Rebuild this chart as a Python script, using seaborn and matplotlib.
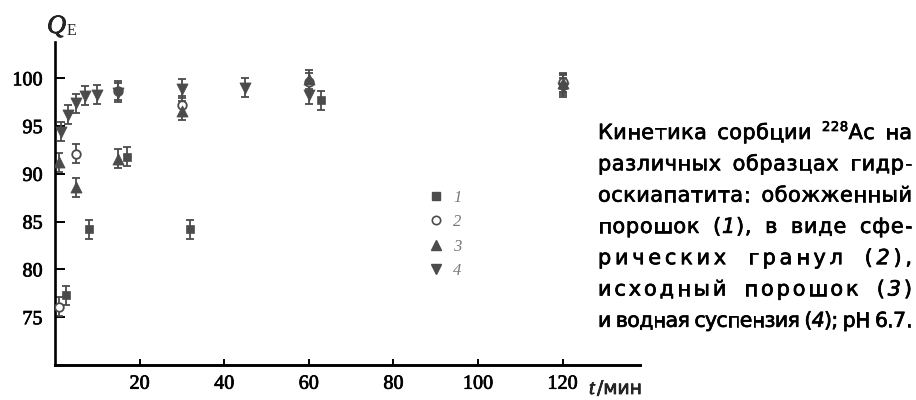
import matplotlib
matplotlib.use("Agg")
import matplotlib.pyplot as plt
import matplotlib.patheffects as pe
import pandas as pd
import seaborn as sns
from matplotlib.font_manager import FontProperties
from matplotlib.lines import Line2D

# Sorption kinetics: t in minutes, Q_E in %
t1 = [2.5, 8, 17, 32, 63, 120]
q1 = [77.3, 84.2, 91.8, 84.2, 97.7, 99.3]
t2 = [1, 5, 15, 30, 60, 120]
q2 = [76.1, 92.1, 98.7, 97.2, 99.6, 99.6]
t3 = [1, 5, 15, 30, 60, 120]
q3 = [91.2, 88.6, 91.6, 96.6, 99.9, 99.5]
t4 = [1.5, 3, 5, 7, 10, 15, 30, 45, 60, 120]
q4 = [94.4, 96.2, 97.4, 98.2, 98.3, 98.5, 98.9, 99.0, 98.3, 99.0]
q_err = 1.0

series_labels = ["1", "2", "3", "4"]
x_ticks = [20, 40, 60, 80, 100, 120]
y_ticks = [75, 80, 85, 90, 95, 100]

sns.set_theme(style="ticks")
plt.rcParams["font.family"] = ["Liberation Serif", "DejaVu Serif"]

W, H = 916, 400
fig = plt.figure(figsize=(W / 100, H / 100), dpi=100)
ax = fig.add_axes([55 / W, 1 - 365 / H, 585 / W, 323 / H])
GRAY = "#4b4b4b"
THICKEN = [pe.withStroke(linewidth=0.5, foreground="black")]

rows = []
for lab, ts, qs in zip(series_labels, [t1, t2, t3, t4], [q1, q2, q3, q4]):
    rows += [{"series": lab, "t": a, "Q": b} for a, b in zip(ts, qs)]
df = pd.DataFrame(rows)

ax.errorbar(df["t"], df["Q"], yerr=q_err, fmt="none", ecolor=GRAY,
            elinewidth=1.3, capsize=3, capthick=1.3, zorder=2)

marker_style = {
    "1": dict(marker="s", s=36, color=GRAY, edgecolor=GRAY),
    "2": dict(marker="o", s=38, facecolor="white", edgecolor=GRAY, linewidth=1.3),
    "3": dict(marker="^", s=62, color=GRAY, edgecolor=GRAY),
    "4": dict(marker="v", s=62, color=GRAY, edgecolor=GRAY),
}
for lab in series_labels:
    sub = df[df["series"] == lab]
    sns.scatterplot(data=sub, x="t", y="Q", ax=ax, legend=False, zorder=3,
                    **marker_style[lab])

ax.set_xlim(0, 138.3)
ax.set_ylim(70, 103.8)
for s in ["top", "right"]:
    ax.spines[s].set_visible(False)
ax.spines["left"].set_linewidth(1.9)
ax.spines["bottom"].set_linewidth(2.1)
ax.spines["left"].set_color("black")
ax.spines["bottom"].set_color("black")
ax.set_xticks(x_ticks)
ax.set_yticks(y_ticks)
ax.tick_params(axis="y", direction="in", length=7, width=1.4, pad=9,
               labelsize=14.5, colors="black")
ax.tick_params(axis="x", direction="in", length=4.5, width=1.4, pad=7,
               labelsize=14.5, colors="black")
for lbl in ax.get_xticklabels() + ax.get_yticklabels():
    lbl.set_path_effects(THICKEN)
ax.set_xlabel("")
ax.set_ylabel("")

# axis titles
fig.text(47 / W, 1 - 33 / H, "Q", family="Liberation Serif", style="italic",
         fontsize=19, va="baseline", ha="left", path_effects=THICKEN)
fig.text(67 / W, 1 - 35 / H, "E", family="Liberation Serif", fontsize=11.5,
         va="baseline", ha="left")
fig.text(589 / W, 1 - 394 / H, "t", family="Liberation Serif", style="italic",
         fontsize=15, va="baseline", ha="left", path_effects=THICKEN)
fig.text(597 / W, 1 - 394 / H, "/мин", family="DejaVu Sans", fontsize=13.5,
         va="baseline", ha="left", path_effects=THICKEN)

# legend
handles = [
    Line2D([], [], ls="", marker="s", ms=5.5, color=GRAY),
    Line2D([], [], ls="", marker="o", ms=6, mfc="white", mec=GRAY, mew=1.2),
    Line2D([], [], ls="", marker="^", ms=7.5, color=GRAY),
    Line2D([], [], ls="", marker="v", ms=7.5, color=GRAY),
]
leg = ax.legend(handles, series_labels, loc="upper left",
                bbox_to_anchor=(428 / W, 1 - 190 / H), bbox_transform=fig.transFigure,
                frameon=False, handlelength=1.0, handletextpad=0.5, labelspacing=0.5,
                borderpad=0, borderaxespad=0,
                prop=FontProperties(family="Liberation Serif", style="italic", size=12))
for txt in leg.get_texts():
    txt.set_color("#777777")

# caption, justified between two edges
CAP_SIZE = 15.0
fp_reg = FontProperties(family="DejaVu Sans", size=CAP_SIZE)
fp_it = FontProperties(family="DejaVu Sans", size=CAP_SIZE, style="italic")
fp_sup = FontProperties(family="DejaVu Sans", size=9.5)

# (segments, weight given to word gaps relative to letter gaps)
caption_lines = [
    ([("Кинетика сорбции ", "r"), ("228", "sup"), ("Ac на", "r")], 8),
    ([("различных образцах гидр-", "r")], 8),
    ([("оскиапатита: обожженный", "r")], 8),
    ([("порошок (", "r"), ("1", "i"), ("), в виде сфе-", "r")], 8),
    ([("рических гранул (", "r"), ("2", "i"), ("),", "r")], 3),
    ([("исходный порошок (", "r"), ("3", "i"), (")", "r")], 3),
    ([("и водная суспензия (", "r"), ("4", "i"), ("); pH 6.7.", "r")], 2),
]

renderer = fig.canvas.get_renderer()


def props_for(kind, size):
    base = {"r": fp_reg, "i": fp_it, "sup": fp_sup}[kind].copy()
    if kind != "sup":
        base.set_size(size)
    return base


def advance(ch, fp):
    w1 = renderer.get_text_width_height_descent("|" + ch + "|", fp, ismath=False)[0]
    w0 = renderer.get_text_width_height_descent("||", fp, ismath=False)[0]
    return w1 - w0


def draw_justified(segments, word_weight, x_left, x_right, baseline,
                   size=CAP_SIZE, min_track=-0.7):
    span = x_right - x_left
    while True:
        glyphs = []
        for text, kind in segments:
            fp = props_for(kind, size)
            dy = 8 if kind == "sup" else 0
            for ch in text:
                glyphs.append((ch, fp, dy))
        widths = [advance(c, fp) for c, fp, _ in glyphs]
        last_w = renderer.get_text_width_height_descent(glyphs[-1][0], glyphs[-1][1],
                                                        ismath=False)[0]
        natural = sum(widths[:-1]) + last_w
        gap_w = [word_weight if c == " " else 1.0 for c, _, _ in glyphs[:-1]]
        unit = (span - natural) / sum(gap_w)
        if unit >= min_track or size <= 10:
            break
        size -= 0.25
    x = x_left
    for k, ((ch, fp, dy), w) in enumerate(zip(glyphs, widths)):
        if ch != " ":
            fig.text(x / W, 1 - (baseline - dy) / H, ch, fontproperties=fp,
                     ha="left", va="baseline", color="black", path_effects=THICKEN)
        if k < len(gap_w):
            x += w + unit * gap_w[k]


for i, (seg, ww) in enumerate(caption_lines):
    draw_justified(seg, ww, 598, 912, 139 + 31.3 * i)

fig.savefig("out.png", dpi=100)
